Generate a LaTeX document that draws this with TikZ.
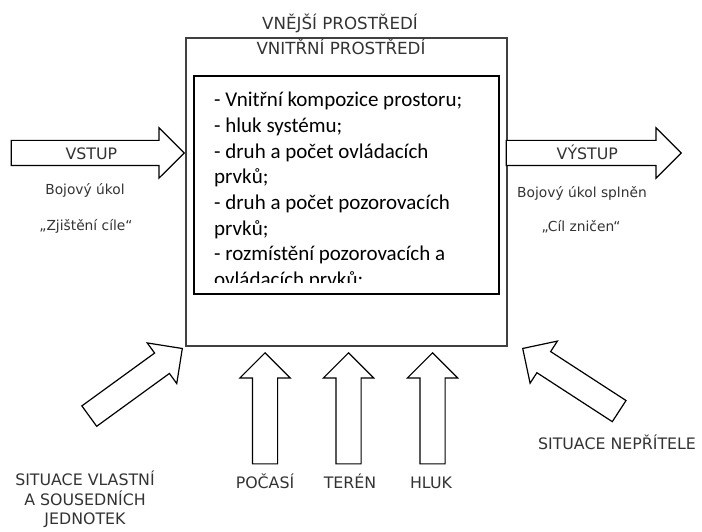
\documentclass[tikz,border=0pt]{standalone}
\usepackage{fontspec}
\setmainfont{DejaVu Sans}
\newfontfamily\boxfont{Carlito}
\usetikzlibrary{shapes.arrows}
\definecolor{labelgray}{gray}{0.2}
\tikzset{
  blockarrow/.style={single arrow, draw=black, line width=1.2pt, fill=white,
    minimum width=49pt, single arrow head extend=12.5pt,
    text height=14pt, text depth=0pt, inner xsep=0pt, inner ysep=5pt},
  caption/.style={text=labelgray, font=\fontsize{15.8}{20}\selectfont},
  lbl/.style={caption, inner sep=0pt},
  title/.style={lbl, font=\fontsize{16.7}{20}\selectfont},
  remark/.style={lbl, font=\fontsize{13.8}{16}\selectfont},
}

\begin{document}
\begin{tikzpicture}[x=1pt, y=-1pt]
  \useasboundingbox (0,0) rectangle (702,532);
  % outer environment
  \draw[line width=2pt, black!75] (186,38) rectangle (507,346);
  \node[title, anchor=base] (outer) at (340,30) {VNĚJŠÍ PROSTŘEDÍ};
  \node[title, anchor=base] (inner) at (341,55) {VNITŘNÍ PROSTŘEDÍ};
  % inner environment, text cut off at the bottom
  \begin{scope}
    \clip (194,76) rectangle (499,282);
    \foreach \t [count=\i] in {- Vnitřní kompozice prostoru;, - hluk systému;,
        - druh a počet ovládacích, prvků;, - druh a počet pozorovacích, prvků;,
        - rozmístění pozorovacích a, ovládacích prvků;}
      \node[anchor=base west, inner sep=0pt, font=\boxfont\fontsize{21}{25}\selectfont]
        (item\i) at (214,{107+25.6*(\i-1)}) {\t};
  \end{scope}
  \draw[line width=1.3pt] (194,76) rectangle (499,294);
  % input and output
  \node[blockarrow, caption, minimum height=173pt, anchor=tip] (vstup) at (185,153) {VSTUP};
  \node[remark, anchor=base] (task) at (85,195) {Bojový úkol};
  \node[remark, anchor=base] (goal) at (86,230) {„Zjištění cíle“};
  \node[blockarrow, caption, minimum height=175pt, anchor=tip] (vystup) at (682,153) {VÝSTUP};
  \node[remark, anchor=base] (done) at (582,198) {Bojový úkol splněn};
  \node[remark, anchor=base] (hit) at (581,231) {„Cíl zničen“};
  % influences from below
  \node[blockarrow, minimum height=111pt, anchor=tip, rotate=90] (weather) at (265,352) {};
  \node[blockarrow, minimum height=111pt, anchor=tip, rotate=90] (terrain) at (348.5,352) {};
  \node[blockarrow, minimum height=111pt, anchor=tip, rotate=90] (noise) at (432.5,352) {};
  \node[lbl, anchor=base] (weatherlbl) at (265,488) {POČASÍ};
  \node[lbl, anchor=base] (terrainlbl) at (350,488) {TERÉN};
  \node[lbl, anchor=base] (noiselbl) at (431,488) {HLUK};
  % own and enemy situation
  \node[blockarrow, minimum height=115pt, anchor=tip, rotate=36] (own) at (183,348) {};
  \node[blockarrow, minimum height=115pt, anchor=tip, rotate=147] (enemy) at (522,348) {};
  \node[lbl, anchor=north, align=center, font=\fontsize{15.8}{19.5}\selectfont] (ownlbl)
    at (85,471) {SITUACE VLASTNÍ\\A SOUSEDNÍCH\\JEDNOTEK};
  \node[lbl, anchor=base] (enemylbl) at (617,449) {SITUACE NEPŘÍTELE};
\end{tikzpicture}
\end{document}
